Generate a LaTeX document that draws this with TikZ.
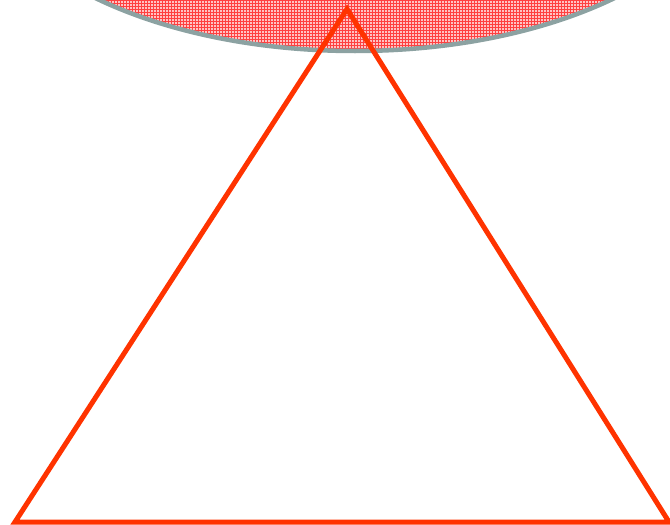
\documentclass[tikz,border=0pt]{standalone}
\usetikzlibrary{patterns}
\definecolor{rimgrey}{RGB}{140,162,162}
\definecolor{triorange}{RGB}{255,51,0}
\definecolor{pinkfill}{RGB}{255,195,195}
\begin{document}
\begin{tikzpicture}[x=1pt,y=-1pt,
  lenspat/.style={pattern=grid,pattern color=red!75},
  tri/.style={draw=triorange,line width=5pt,line join=miter}]
\useasboundingbox (0,0) rectangle (670,525);
\begin{scope}
\clip (0,0) rectangle (670,525);
\coordinate (lensc) at (355,-143);
\fill[pinkfill] (lensc) ellipse [x radius=378, y radius=194];
\fill[lenspat] (lensc) ellipse [x radius=378, y radius=194];
\draw[draw=rimgrey,line width=4.5pt] (lensc) ellipse [x radius=378, y radius=194];
\coordinate (apex) at (347,9);
\coordinate (bl) at (15,522);
\coordinate (br) at (669,522);
\draw[tri] (apex) -- (bl) -- (br) -- cycle;
\end{scope}
\end{tikzpicture}
\end{document}
